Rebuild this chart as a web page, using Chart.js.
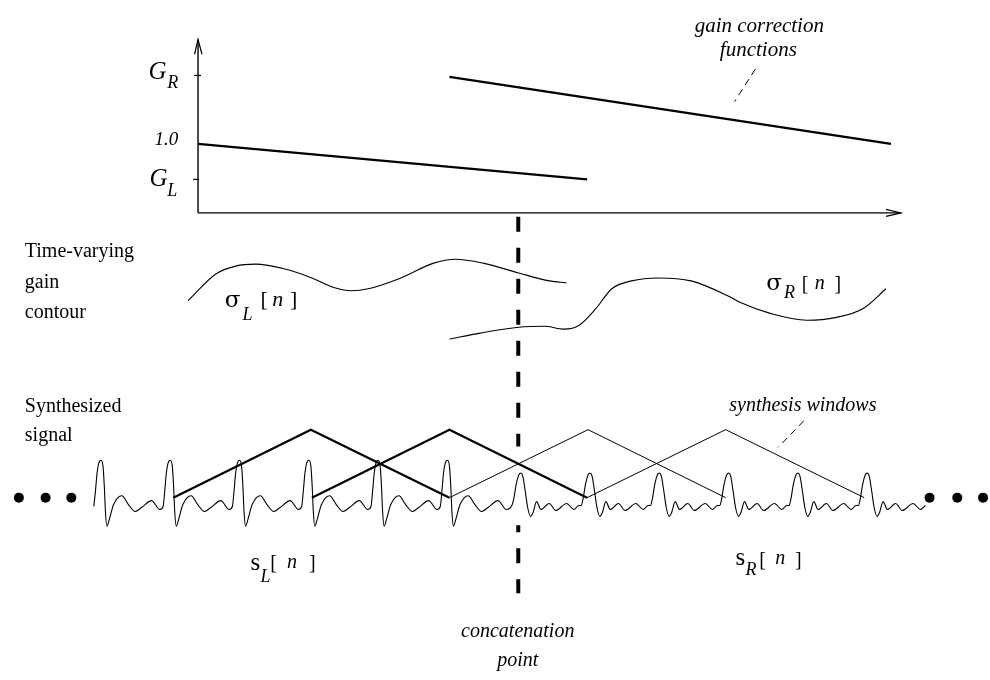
<!DOCTYPE html>
<html>
<head>
<meta charset="utf-8">
<title>Gain correction at a concatenation point</title>
<script src="https://cdn.jsdelivr.net/npm/chart.js@4/dist/chart.umd.min.js"></script>
<style>
  html, body { margin: 0; padding: 0; background: #fff; }
  canvas { display: block; }
</style>
</head>
<body>
<canvas id="diagram" width="990" height="680"></canvas>
<script>
// ---- Diagram values (x = time position, y = vertical position, downward) ----

// Gain correction panel
const gainAxisVertical   = [[195, 211], [195, 35]];
const gainAxisHorizontal = [[195, 211], [905, 211]];
const arrowUp            = [[191.5, 50], [195, 35], [199, 50]];
const arrowRight         = [[890, 207.5], [905, 211], [890, 214.5]];
const tickGR             = [[191, 71.5], [198, 71.5]];
const tickGL             = [[190, 177], [196, 177]];
const gainLeft           = [[195, 141], [588, 177]];   // 1.0 -> G_L
const gainRight          = [[449, 73], [895, 141]];    // G_R -> 1.0
const leaderGain         = [[758, 65], [737, 98]];

// Time-varying gain contours
const sigmaLeft = [
  [185, 300], [213, 273], [233, 265], [253, 263], [283, 268], [310, 277],
  [333, 287], [350, 290], [367, 288], [400, 277], [433, 262], [455, 258],
  [483, 262], [519, 272], [550, 280], [567, 282]
];
const sigmaRight = [
  [449, 339], [480, 333], [519, 327], [545, 326], [565, 329], [580, 325],
  [597, 308], [613, 288], [633, 280], [660, 277], [693, 280], [730, 295],
  [743, 302], [773, 313], [810, 320], [840, 317], [867, 308], [890, 288]
];

// Concatenation point marker (interrupted where the signal runs)
const concatUpper = [[518.5, 215], [518.5, 448]];
const concatLower = [[518.5, 528], [518.5, 597]];

// Synthesis windows (triangular)
const windowStart = [170, 310, 449, 588];
const windowPeak  = [309, 449, 589, 728];
const windowEnd   = [449, 588, 728, 868];
const windowBase  = 500;
const windowTop   = 431;
const leaderWindows = [[807, 422], [781, 449]];

// Synthesized signal: one pitch period of each unit, and its pulse positions
const leftPulsePeaks  = [97, 167, 237, 307, 377, 447];
const leftPeriod = [
  [-7.3, 509], [-5.6, 493], [-4, 475], [-2.3, 465], [0, 462], [2, 468],
  [3.4, 490], [4.4, 513], [6, 529], [8.4, 522], [12.7, 507], [21, 498],
  [27.7, 507], [34.4, 514], [41, 510], [51, 503], [59.4, 512]
];
const rightPulsePeaks = [521, 591, 661, 731, 801, 871];
const rightPeriod = [
  [-9, 508], [-7, 501], [-4.5, 486], [-2, 477], [0, 475], [2, 478],
  [4.5, 493], [7, 510], [10, 519], [12.5, 515], [16, 504], [20.4, 512],
  [28.7, 506], [35.4, 513], [46.4, 506], [53.7, 512], [58.7, 508]
];

// Continuation dots
const dotsLeft  = [14, 41, 67];
const dotsRight = [934, 962, 988];
const dotsLevel = 500;

// ---- Text ----
const SERIF = '"Liberation Serif", "DejaVu Serif", serif';
const GREEK = '"DejaVu Serif", "Liberation Serif", serif';
const diagramText = [
  { text: 'gain correction', x: 762, y: 27, font: `italic 21px ${SERIF}`, align: 'center' },
  { text: 'functions',       x: 761, y: 52, font: `italic 21px ${SERIF}`, align: 'center' },
  { text: 'G',   x: 145, y: 75,  font: `italic 25px ${SERIF}` },
  { text: 'R',   x: 164, y: 84,  font: `italic 18px ${SERIF}` },
  { text: '1.0', x: 175, y: 142, font: `italic 19px ${SERIF}`, align: 'right' },
  { text: 'G',   x: 146, y: 184, font: `italic 25px ${SERIF}` },
  { text: 'L',   x: 164, y: 194, font: `italic 18px ${SERIF}` },

  { text: 'Time-varying', x: 20, y: 256, font: `20px ${SERIF}` },
  { text: 'gain',         x: 20, y: 287, font: `20px ${SERIF}` },
  { text: 'contour',      x: 20, y: 318, font: `20px ${SERIF}` },

  { text: 'σ', x: 222, y: 307, font: `23px ${GREEK}` },
  { text: 'L', x: 240, y: 320, font: `italic 18px ${SERIF}` },
  { text: '[', x: 258, y: 305, font: `22px ${SERIF}` },
  { text: 'n', x: 270, y: 305, font: `italic 22px ${SERIF}` },
  { text: ']', x: 288, y: 305, font: `22px ${SERIF}` },

  { text: 'σ', x: 769, y: 289, font: `23px ${GREEK}` },
  { text: 'R', x: 787, y: 297, font: `italic 18px ${SERIF}` },
  { text: '[', x: 805, y: 289, font: `20px ${SERIF}` },
  { text: 'n', x: 818, y: 288, font: `italic 20px ${SERIF}` },
  { text: ']', x: 838, y: 289, font: `20px ${SERIF}` },

  { text: 'Synthesized', x: 20, y: 413, font: `20px ${SERIF}` },
  { text: 'signal',      x: 20, y: 443, font: `20px ${SERIF}` },
  { text: 'synthesis windows', x: 806, y: 412, font: `italic 20px ${SERIF}`, align: 'center' },

  { text: 's', x: 248, y: 573, font: `25px ${SERIF}` },
  { text: 'L', x: 258, y: 586, font: `italic 18px ${SERIF}` },
  { text: '[', x: 268, y: 572, font: `20px ${SERIF}` },
  { text: 'n', x: 285, y: 571, font: `italic 20px ${SERIF}` },
  { text: ']', x: 307, y: 572, font: `20px ${SERIF}` },

  { text: 's', x: 738, y: 568, font: `25px ${SERIF}` },
  { text: 'R', x: 748, y: 578, font: `italic 18px ${SERIF}` },
  { text: '[', x: 762, y: 569, font: `20px ${SERIF}` },
  { text: 'n', x: 778, y: 567, font: `italic 20px ${SERIF}` },
  { text: ']', x: 798, y: 569, font: `20px ${SERIF}` },

  { text: 'concatenation', x: 518, y: 641, font: `italic 20px ${SERIF}`, align: 'center' },
  { text: 'point',         x: 518, y: 671, font: `italic 20px ${SERIF}`, align: 'center' }
];

// ---- Build the datasets ----
const pts = arr => arr.map(([x, y]) => ({ x, y }));

function signalFrom(peaks, period) {
  const out = [];
  peaks.forEach(p => period.forEach(([dx, y]) => out.push({ x: p + dx, y })));
  return out;
}
const signal = signalFrom(leftPulsePeaks, leftPeriod)
  .concat(signalFrom(rightPulsePeaks, rightPeriod));

function line(data, width, extra = {}) {
  return Object.assign({
    data: pts(data), showLine: true, borderColor: '#000', borderWidth: width,
    pointRadius: 0, fill: false, tension: 0, clip: false
  }, extra);
}

const datasets = [
  line(gainAxisVertical, 1.4),
  line(gainAxisHorizontal, 1.4),
  line(arrowUp, 1.2),
  line(arrowRight, 1.2),
  line(tickGR, 1.2),
  line(tickGL, 1.2),
  line(gainLeft, 2.2),
  line(gainRight, 2.2),
  line(leaderGain, 1, { borderDash: [7, 5] }),
  line(sigmaLeft, 1.1, { cubicInterpolationMode: 'monotone' }),
  line(sigmaRight, 1.1, { cubicInterpolationMode: 'monotone' }),
  line(concatUpper, 4, { borderDash: [15, 16], borderCapStyle: 'butt' }),
  line(concatLower, 4, { borderDash: [15, 16], borderDashOffset: 8, borderCapStyle: 'butt' }),
  line(leaderWindows, 1, { borderDash: [7, 5] })
];

windowStart.forEach((s, i) => {
  datasets.push(line([[s, windowBase], [windowPeak[i], windowTop], [windowEnd[i], windowBase]],
    i < 2 ? 2.2 : 1, { borderJoinStyle: 'miter' }));
});

datasets.push({
  data: signal, showLine: true, borderColor: '#000', borderWidth: 1.1,
  pointRadius: 0, fill: false, cubicInterpolationMode: 'monotone', clip: false
});

datasets.push({
  data: dotsLeft.concat(dotsRight).map(x => ({ x, y: dotsLevel })),
  showLine: false, pointRadius: 5, pointBackgroundColor: '#000',
  pointBorderColor: '#000', pointBorderWidth: 0, clip: false
});

const textPlugin = {
  id: 'diagramText',
  afterDatasetsDraw(chart) {
    const { ctx, scales: { x, y } } = chart;
    ctx.save();
    ctx.fillStyle = '#000';
    ctx.textBaseline = 'alphabetic';
    diagramText.forEach(t => {
      ctx.font = t.font;
      ctx.textAlign = t.align || 'left';
      ctx.fillText(t.text, x.getPixelForValue(t.x), y.getPixelForValue(t.y));
    });
    ctx.restore();
  }
};

new Chart(document.getElementById('diagram'), {
  type: 'scatter',
  data: { datasets },
  options: {
    responsive: false,
    animation: false,
    events: [],
    layout: { padding: 0 },
    plugins: { legend: { display: false }, tooltip: { enabled: false } },
    scales: {
      x: { type: 'linear', min: 0, max: 990, display: false },
      y: { type: 'linear', min: 0, max: 680, reverse: true, display: false }
    }
  },
  plugins: [textPlugin]
});
</script>
</body>
</html>
